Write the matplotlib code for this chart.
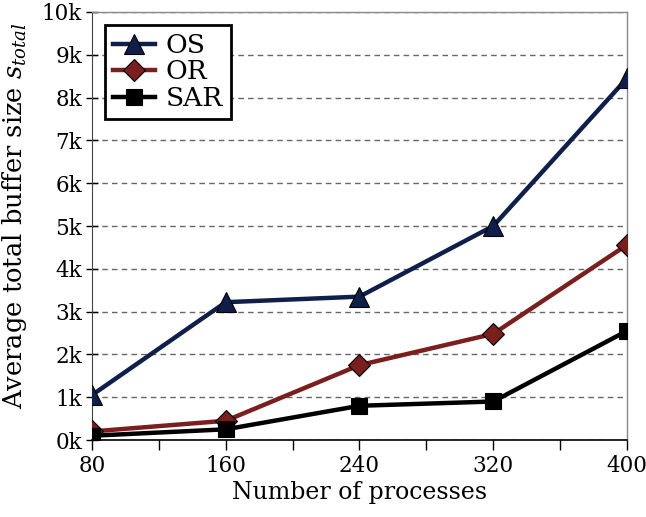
import matplotlib
matplotlib.use("Agg")
import matplotlib.pyplot as plt

# data
processes = [80, 160, 240, 320, 400]
os_vals = [1050, 3220, 3350, 5000, 8450]
or_vals = [200, 450, 1750, 2480, 4560]
sar_vals = [100, 250, 800, 900, 2550]
ytick_vals = list(range(0, 10001, 1000))
ytick_labels = ["%dk" % (v // 1000) for v in ytick_vals]

plt.rcParams["font.family"] = "DejaVu Serif"
plt.rcParams["mathtext.fontset"] = "dejavuserif"

fig = plt.figure(figsize=(6.46, 5.17), dpi=100)
ax = fig.add_axes([0.1424, 0.1489, 0.8282, 0.8279])

ax.plot(processes, os_vals, color="#0f1f4a", lw=3.2, marker="^", ms=14,
        mec="black", mew=0.8, label="OS", zorder=3)
ax.plot(processes, or_vals, color="#7a1e1e", lw=3.2, marker="D", ms=11,
        mec="black", mew=0.8, label="OR", zorder=3)
ax.plot(processes, sar_vals, color="black", lw=3.2, marker="s", ms=11,
        mec="black", mew=0.8, label="SAR", zorder=3)

ax.set_xlim(80, 400)
ax.set_ylim(0, 10000)
ax.set_xticks(processes)
ax.set_xticks([120, 200, 280, 360], minor=True)
ax.set_yticks(ytick_vals)
ax.set_yticklabels(ytick_labels)
ax.tick_params(axis="both", labelsize=15.5, colors="black")
ax.tick_params(axis="y", direction="inout", length=8, width=1, pad=3)
ax.tick_params(axis="x", which="major", direction="out", length=7, width=1)
ax.tick_params(axis="x", which="minor", direction="out", length=7, width=1)

ax.yaxis.grid(True, ls=(0, (4, 3)), color="#666666", lw=1)
ax.set_axisbelow(True)
for side in ["top", "right"]:
    ax.spines[side].set_color("#888888")
    ax.spines[side].set_linewidth(1)
ax.spines["left"].set_color("#444444")
ax.spines["bottom"].set_color("black")
ax.spines["bottom"].set_linewidth(1.2)

ax.set_xlabel("Number of processes", fontsize=17, labelpad=3)
ax.set_ylabel("Average total buffer size $s_{total}$", fontsize=18.5)
ax.yaxis.set_label_coords(-0.118, 0.525)

leg = ax.legend(loc="upper left", fontsize=19, fancybox=False, framealpha=1,
                edgecolor="black", handlelength=1.6,
                handletextpad=0.4, labelspacing=0.05, borderpad=0.3,
                borderaxespad=0.5)
leg.get_frame().set_linewidth(2)

fig.savefig("out.png", dpi=100)
